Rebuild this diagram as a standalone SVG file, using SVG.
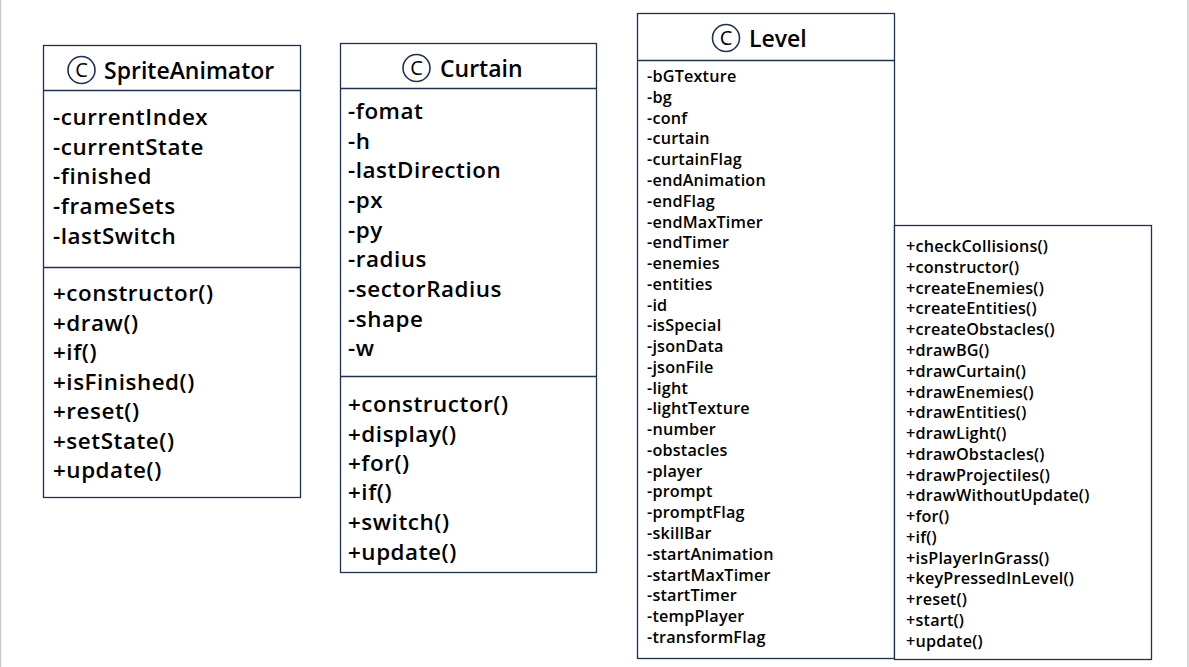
<svg xmlns="http://www.w3.org/2000/svg" width="1189" height="667" viewBox="0 0 1189 667">
<style>
.box{fill:#ffffff;stroke:#1f3058;stroke-width:1.3}
.ln{stroke:#1f3058;stroke-width:1.3}
.t{font-family:"Open Sans","Noto Sans",sans-serif;font-weight:600;fill:#000}
.big{font-size:22.4px;letter-spacing:0.55px}
.small{font-size:16.2px;letter-spacing:0.2px}
.title{font-size:23px;font-weight:600}
.circ{fill:none;stroke:#1f3058;stroke-width:1.6}
.c{font-family:"Open Sans","Noto Sans",sans-serif;font-size:20px;font-weight:400;fill:#000}
</style>
<rect x="0" y="0" width="1189" height="667" fill="#ffffff"/>
<line x1="0.5" y1="0" x2="0.5" y2="667" stroke="#c8c8c8" stroke-width="1.5"/>
<line x1="1188" y1="0" x2="1188" y2="667" stroke="#c8c8c8" stroke-width="1.5"/>

<g id="SpriteAnimator">
<rect class="box" x="43.5" y="45.5" width="257" height="452"/>
<line class="ln" x1="43.5" y1="90.5" x2="300.5" y2="90.5"/>
<line class="ln" x1="43.5" y1="267.5" x2="300.5" y2="267.5"/>
<circle class="circ" cx="81.5" cy="70" r="13.5"/>
<text class="c" x="81.5" y="77" text-anchor="middle">C</text>
<text class="t title" x="104" y="79">SpriteAnimator</text>
<g class="t big">
<text x="53" y="125">-currentIndex</text>
<text x="53" y="155">-currentState</text>
<text x="53" y="184">-finished</text>
<text x="53" y="214">-frameSets</text>
<text x="53" y="244">-lastSwitch</text>
<text x="53" y="301">+constructor()</text>
<text x="53" y="331">+draw()</text>
<text x="53" y="360">+if()</text>
<text x="53" y="390">+isFinished()</text>
<text x="53" y="419">+reset()</text>
<text x="53" y="449">+setState()</text>
<text x="53" y="478">+update()</text>
</g>
</g>

<g id="Curtain">
<rect class="box" x="340.5" y="43.5" width="256" height="529"/>
<line class="ln" x1="340.5" y1="88.5" x2="596.5" y2="88.5"/>
<line class="ln" x1="340.5" y1="376.5" x2="596.5" y2="376.5"/>
<circle class="circ" cx="416.5" cy="68" r="13.5"/>
<text class="c" x="416.5" y="75" text-anchor="middle">C</text>
<text class="t title" x="440" y="77">Curtain</text>
<g class="t big">
<text x="348" y="119">-fomat</text>
<text x="348" y="149">-h</text>
<text x="348" y="178">-lastDirection</text>
<text x="348" y="208">-px</text>
<text x="348" y="238">-py</text>
<text x="348" y="267">-radius</text>
<text x="348" y="297">-sectorRadius</text>
<text x="348" y="327">-shape</text>
<text x="348" y="356">-w</text>
<text x="348" y="412">+constructor()</text>
<text x="348" y="442">+display()</text>
<text x="348" y="471">+for()</text>
<text x="348" y="500">+if()</text>
<text x="348" y="530">+switch()</text>
<text x="348" y="560">+update()</text>
</g>
</g>

<g id="Level">
<rect class="box" x="637.5" y="13.5" width="257" height="645"/>
<line class="ln" x1="637.5" y1="60.5" x2="894.5" y2="60.5"/>
<circle class="circ" cx="726" cy="38" r="13.5"/>
<text class="c" x="726" y="45" text-anchor="middle">C</text>
<text class="t title" x="749" y="47">Level</text>
<g class="t small">
<text x="647" y="82">-bGTexture</text>
<text x="647" y="103">-bg</text>
<text x="647" y="124">-conf</text>
<text x="647" y="144">-curtain</text>
<text x="647" y="165">-curtainFlag</text>
<text x="647" y="186">-endAnimation</text>
<text x="647" y="207">-endFlag</text>
<text x="647" y="228">-endMaxTimer</text>
<text x="647" y="248">-endTimer</text>
<text x="647" y="269">-enemies</text>
<text x="647" y="290">-entities</text>
<text x="647" y="311">-id</text>
<text x="647" y="331">-isSpecial</text>
<text x="647" y="352">-jsonData</text>
<text x="647" y="373">-jsonFile</text>
<text x="647" y="394">-light</text>
<text x="647" y="414">-lightTexture</text>
<text x="647" y="435">-number</text>
<text x="647" y="456">-obstacles</text>
<text x="647" y="477">-player</text>
<text x="647" y="497">-prompt</text>
<text x="647" y="518">-promptFlag</text>
<text x="647" y="539">-skillBar</text>
<text x="647" y="560">-startAnimation</text>
<text x="647" y="581">-startMaxTimer</text>
<text x="647" y="601">-startTimer</text>
<text x="647" y="622">-tempPlayer</text>
<text x="647" y="643">-transformFlag</text>
</g>
<rect class="box" x="894.5" y="225.5" width="257" height="434"/>
<g class="t small">
<text x="906" y="252">+checkCollisions()</text>
<text x="906" y="273">+constructor()</text>
<text x="906" y="294">+createEnemies()</text>
<text x="906" y="314">+createEntities()</text>
<text x="906" y="335">+createObstacles()</text>
<text x="906" y="356">+drawBG()</text>
<text x="906" y="377">+drawCurtain()</text>
<text x="906" y="398">+drawEnemies()</text>
<text x="906" y="418">+drawEntities()</text>
<text x="906" y="439">+drawLight()</text>
<text x="906" y="460">+drawObstacles()</text>
<text x="906" y="481">+drawProjectiles()</text>
<text x="906" y="501">+drawWithoutUpdate()</text>
<text x="906" y="522">+for()</text>
<text x="906" y="543">+if()</text>
<text x="906" y="564">+isPlayerInGrass()</text>
<text x="906" y="584">+keyPressedInLevel()</text>
<text x="906" y="605">+reset()</text>
<text x="906" y="626">+start()</text>
<text x="906" y="647">+update()</text>
</g>
</g>
<g id="connectors"></g>
</svg>
